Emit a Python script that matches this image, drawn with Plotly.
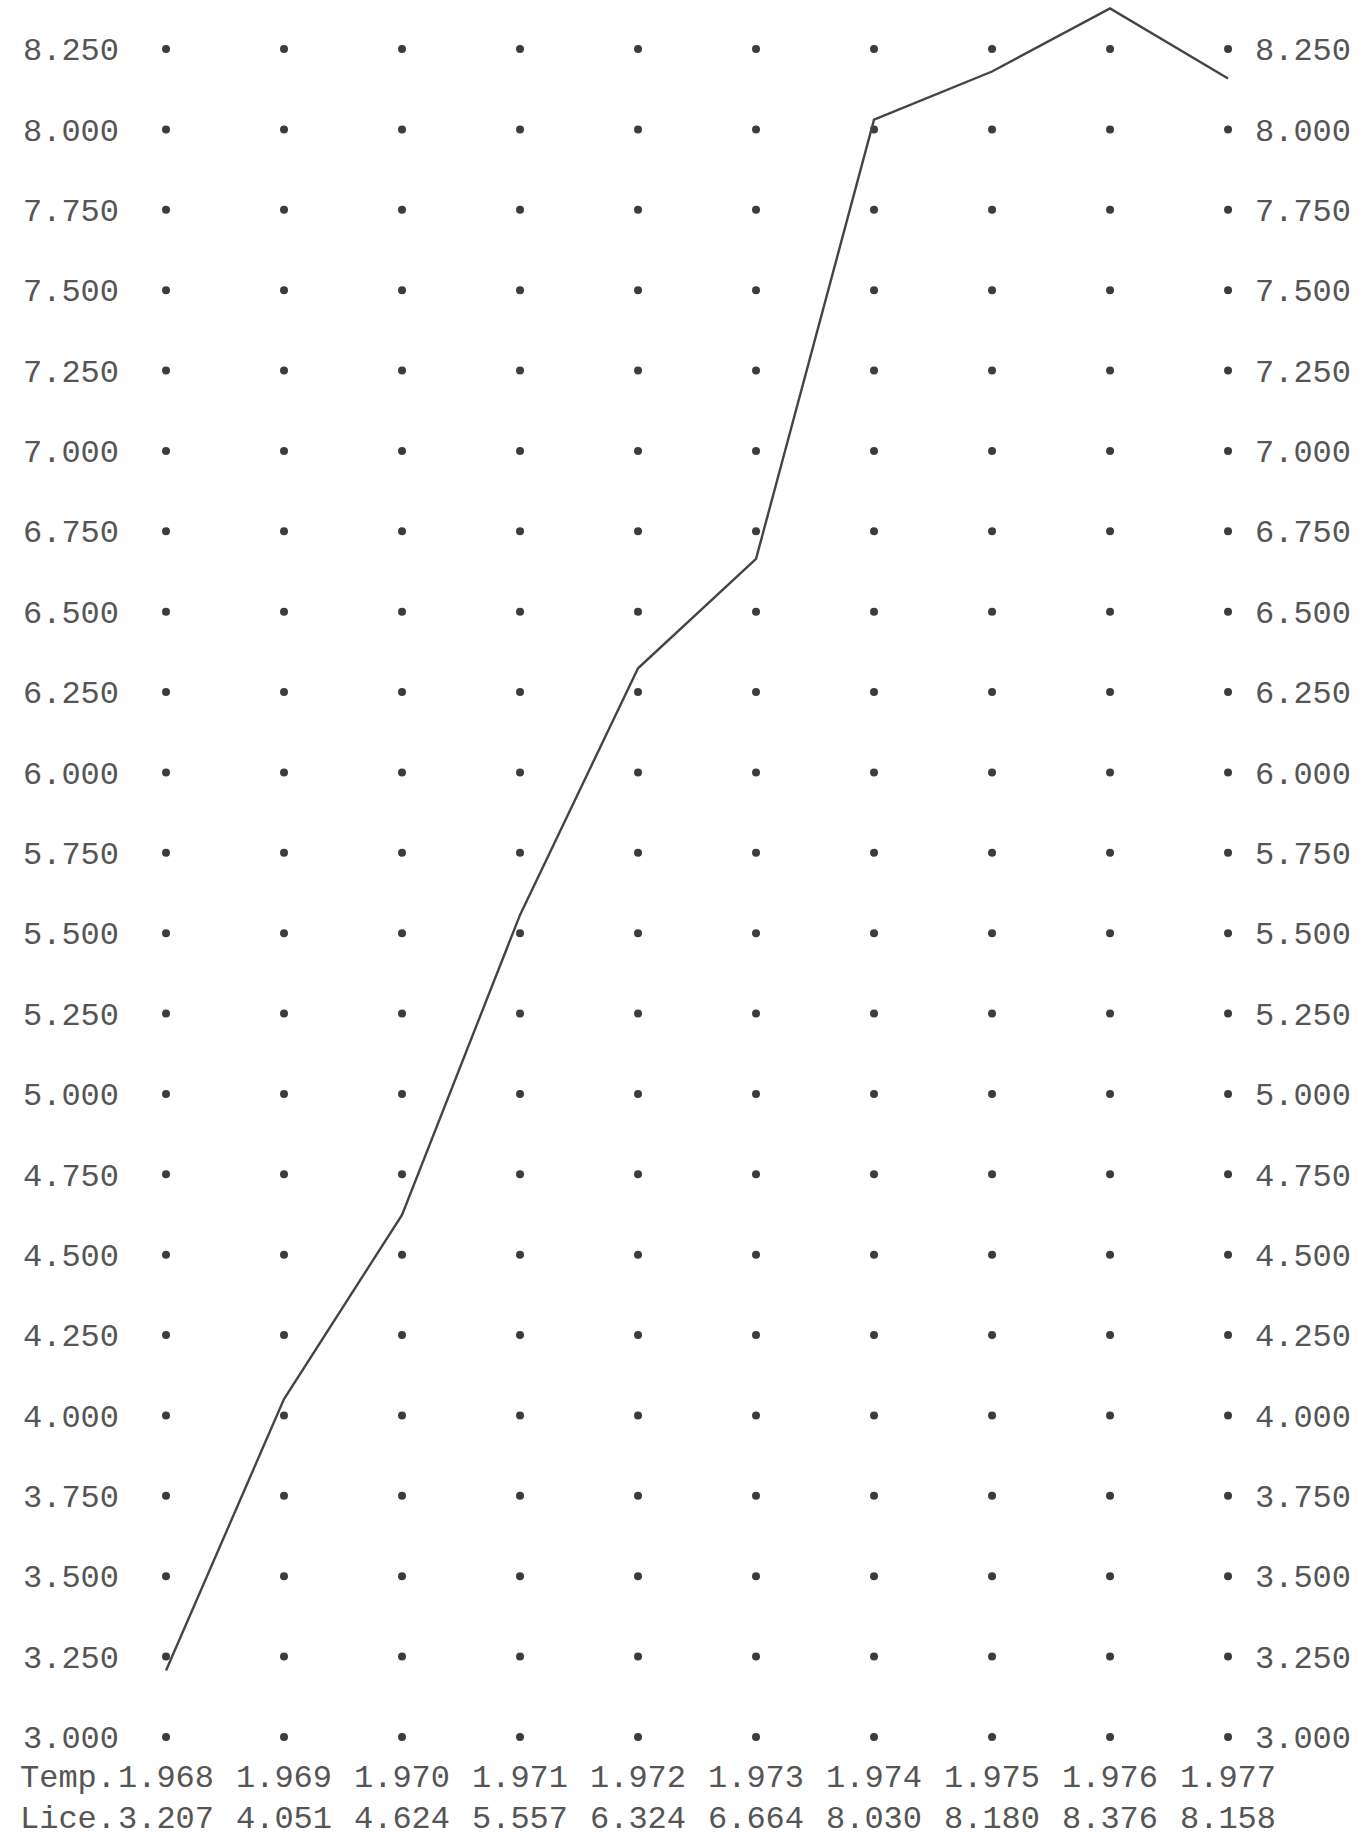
import plotly.graph_objects as go

# ---- data ----
years = [1968, 1969, 1970, 1971, 1972, 1973, 1974, 1975, 1976, 1977]
temp_labels = ["1.968", "1.969", "1.970", "1.971", "1.972", "1.973", "1.974", "1.975", "1.976", "1.977"]
lice_values = [3.207, 4.051, 4.624, 5.557, 6.324, 6.664, 8.030, 8.180, 8.376, 8.158]
lice_labels = ["3.207", "4.051", "4.624", "5.557", "6.324", "6.664", "8.030", "8.180", "8.376", "8.158"]
y_levels = [3.000, 3.250, 3.500, 3.750, 4.000, 4.250, 4.500, 4.750, 5.000, 5.250, 5.500,
            5.750, 6.000, 6.250, 6.500, 6.750, 7.000, 7.250, 7.500, 7.750, 8.000, 8.250]
y_ticktext = ["3.000", "3.250", "3.500", "3.750", "4.000", "4.250", "4.500", "4.750", "5.000",
              "5.250", "5.500", "5.750", "6.000", "6.250", "6.500", "6.750", "7.000", "7.250",
              "7.500", "7.750", "8.000", "8.250"]
row_names = ["Temp.", "Lice."]

FONT = "Liberation Mono"
TXT = "#555555"
FS = 32

# grid of typed dots
gx = [x for y in y_levels for x in years]
gy = [y for y in y_levels for x in years]

fig = go.Figure()
fig.add_trace(go.Scatter(x=gx, y=gy, mode="markers",
                         marker=dict(size=8, color="#3c3c3c"),
                         hoverinfo="skip", showlegend=False))
fig.add_trace(go.Scatter(x=years, y=lice_values, mode="lines",
                         line=dict(color="#444444", width=2.4),
                         showlegend=False))
# invisible trace to activate right axis
fig.add_trace(go.Scatter(x=years, y=lice_values, mode="lines", yaxis="y2",
                         line=dict(color="rgba(0,0,0,0)", width=0),
                         hoverinfo="skip", showlegend=False))

yr = [2.6734, 8.4024]
axis_common = dict(range=yr, tickmode="array", tickvals=y_levels, ticktext=y_ticktext,
                   showgrid=False, zeroline=False, showline=False, ticks="",
                   tickfont=dict(family=FONT, size=FS, color=TXT), fixedrange=True)

fig.update_layout(
    width=1367, height=1842,
    margin=dict(l=120, r=113, t=0, b=0, pad=0),
    paper_bgcolor="white", plot_bgcolor="white",
    xaxis=dict(range=[1967.61, 1977.22], visible=False, fixedrange=True),
    yaxis=dict(side="left", **axis_common),
    yaxis2=dict(side="right", overlaying="y", **axis_common),
)

# bottom typed rows
row_y = [2.872, 2.6795]
row_anchor = ["middle", "bottom"]
row_vals = [temp_labels, lice_labels]
for name, yy, ya, vals in zip(row_names, row_y, row_anchor, row_vals):
    fig.add_annotation(x=years[0], y=yy, xref="x", yref="y", text=name, showarrow=False,
                       xanchor="right", yanchor=ya, xshift=-48,
                       font=dict(family=FONT, size=FS, color=TXT))
    for x, t in zip(years, vals):
        fig.add_annotation(x=x, y=yy, xref="x", yref="y", text=t, showarrow=False,
                           xanchor="center", yanchor=ya,
                           font=dict(family=FONT, size=FS, color=TXT))

fig.write_html("out.html", config={"displayModeBar": False},
               post_script="document.body.style.margin='0';")
